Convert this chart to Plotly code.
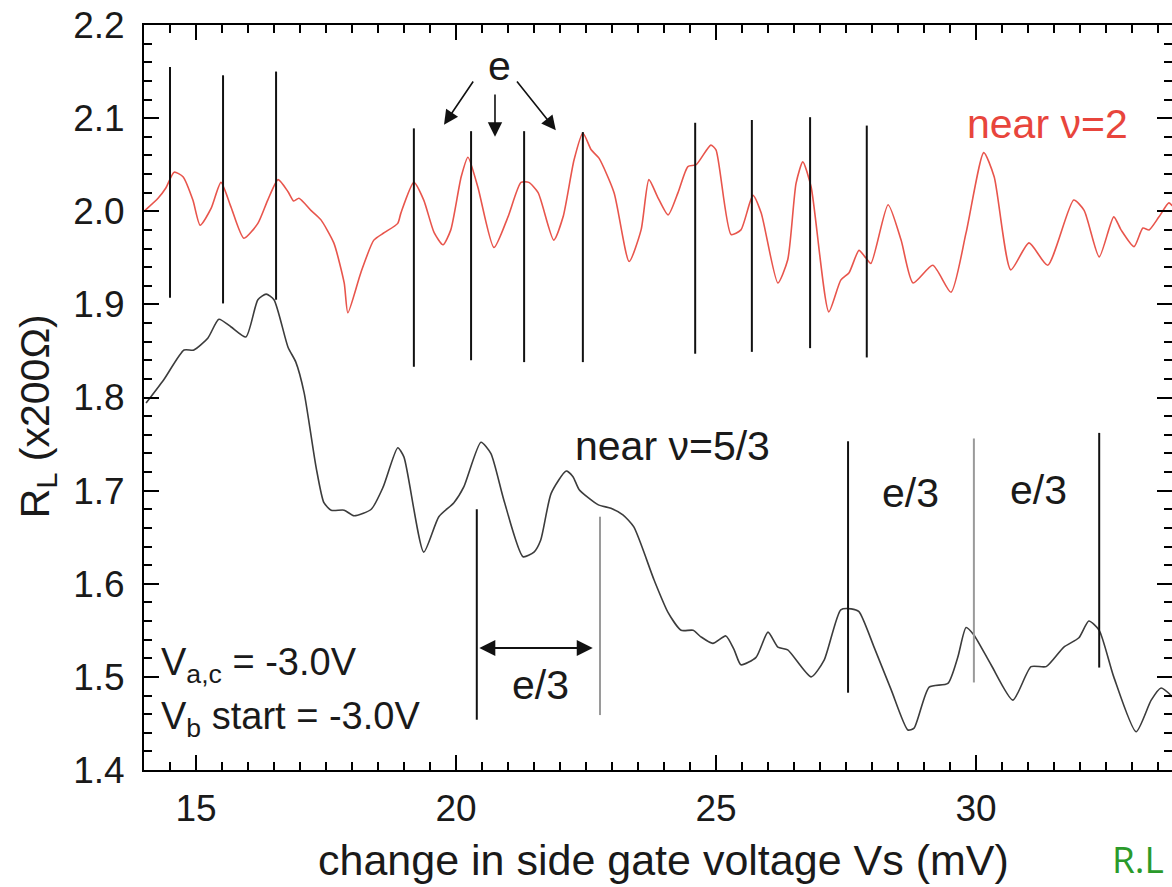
import plotly.graph_objects as go

# ---------------- data ----------------
red_x = [14.02, 14.27, 14.42, 14.58, 14.75, 14.94, 15.08, 15.29, 15.48, 15.67, 15.92, 16.19, 16.38, 16.58,
         16.77, 16.88, 16.98, 17.21, 17.40, 17.65, 17.85, 17.92, 18.17, 18.42, 18.62, 18.88, 18.94, 19.19,
         19.38, 19.58, 19.75, 19.90, 20.10, 20.23, 20.42, 20.73, 21.00, 21.25, 21.40, 21.58, 21.88, 22.06,
         22.27, 22.44, 22.60, 22.75, 23.04, 23.33, 23.56, 23.71, 23.88, 24.08, 24.27, 24.46, 24.62, 24.90,
         25.00, 25.29, 25.48, 25.71, 25.87, 26.19, 26.38, 26.54, 26.67, 26.83, 27.17, 27.40, 27.56, 27.75,
         27.88, 27.98, 28.31, 28.56, 28.79, 29.17, 29.52, 29.81, 30.15, 30.35, 30.67, 31.02, 31.38, 31.88,
         32.08, 32.37, 32.65, 32.79, 33.04, 33.21, 33.33, 33.52, 33.71, 33.79]
red_y = [2.001, 2.014, 2.025, 2.042, 2.037, 2.012, 1.985, 2.003, 2.031, 2.005, 1.971, 1.987, 2.012, 2.034,
         2.021, 2.011, 2.014, 2.001, 1.991, 1.966, 1.923, 1.891, 1.934, 1.969, 1.977, 1.987, 1.998, 2.031,
         2.012, 1.977, 1.964, 1.980, 2.037, 2.058, 2.026, 1.961, 1.994, 2.031, 2.031, 2.020, 1.969, 1.994,
         2.055, 2.084, 2.066, 2.057, 2.020, 1.946, 1.980, 2.034, 2.015, 1.996, 2.020, 2.048, 2.050, 2.071,
         2.066, 1.975, 1.980, 2.017, 1.998, 1.923, 1.948, 2.030, 2.053, 2.026, 1.892, 1.926, 1.934, 1.958,
         1.950, 1.944, 2.007, 1.969, 1.923, 1.942, 1.913, 1.977, 2.063, 2.037, 1.937, 1.966, 1.942, 2.012,
         2.001, 1.951, 1.994, 1.980, 1.962, 1.982, 1.980, 1.994, 2.009, 2.005]

black_x = [14.04, 14.38, 14.77, 14.96, 15.23, 15.44, 15.67, 15.96, 16.19, 16.35, 16.50, 16.77, 16.92, 17.08,
           17.31, 17.46, 17.60, 17.85, 18.04, 18.37, 18.60, 18.88, 19.00, 19.38, 19.67, 19.96, 20.15, 20.48,
           20.67, 20.92, 21.29, 21.50, 21.63, 21.83, 22.12, 22.25, 22.37, 22.73, 22.98, 23.21, 23.42, 23.81,
           24.08, 24.33, 24.56, 24.71, 24.94, 25.19, 25.35, 25.48, 25.77, 26.00, 26.19, 26.38, 26.83, 27.08,
           27.40, 27.60, 27.75, 28.04, 28.37, 28.69, 28.81, 29.10, 29.46, 29.65, 29.81, 29.96, 30.29, 30.71,
           31.06, 31.35, 31.69, 31.98, 32.17, 32.37, 32.65, 33.08, 33.37, 33.56, 33.79]
black_y = [1.794, 1.819, 1.851, 1.851, 1.864, 1.884, 1.876, 1.865, 1.905, 1.911, 1.905, 1.854, 1.838, 1.805,
           1.725, 1.687, 1.679, 1.679, 1.673, 1.680, 1.704, 1.746, 1.736, 1.634, 1.672, 1.687, 1.704, 1.752,
           1.740, 1.690, 1.629, 1.634, 1.647, 1.697, 1.721, 1.715, 1.701, 1.685, 1.681, 1.674, 1.661, 1.604,
           1.569, 1.550, 1.550, 1.543, 1.536, 1.544, 1.529, 1.513, 1.521, 1.548, 1.532, 1.529, 1.500, 1.518,
           1.572, 1.573, 1.570, 1.532, 1.486, 1.443, 1.445, 1.489, 1.493, 1.521, 1.553, 1.545, 1.513, 1.475,
           1.511, 1.511, 1.532, 1.542, 1.560, 1.550, 1.500, 1.441, 1.475, 1.488, 1.478]

# period markers on the nu=2 trace (charge e)
e_mark_x = [14.50, 15.52, 16.54, 19.19, 20.29, 21.31, 22.44, 24.60, 25.69, 26.81, 27.90]
e_mark_top = [2.155, 2.146, 2.150, 2.089, 2.086, 2.086, 2.085, 2.095, 2.098, 2.101, 2.092]
e_mark_bot = [1.907, 1.901, 1.905, 1.833, 1.840, 1.838, 1.838, 1.847, 1.849, 1.853, 1.843]

# period markers on the nu=5/3 trace (charge e/3)
f_mark_x = [20.40, 27.54, 32.37]
f_mark_top = [1.680, 1.753, 1.762]
f_mark_bot = [1.454, 1.483, 1.510]
g_mark_x = [22.77, 29.96]
g_mark_top = [1.672, 1.756]
g_mark_bot = [1.459, 1.494]

x_ticks = [15, 20, 25, 30]
y_ticks = [1.4, 1.5, 1.6, 1.7, 1.8, 1.9, 2.0, 2.1, 2.2]

FONT = "Liberation Sans, Arial, Helvetica, sans-serif"


def segs(xs, tops, bots):
    X, Y = [], []
    for x, t, b in zip(xs, tops, bots):
        X += [x, x, None]
        Y += [b, t, None]
    return X, Y


fig = go.Figure()

fig.add_trace(go.Scatter(x=red_x, y=red_y, mode="lines",
                         line=dict(color="#e8554c", width=1.6, shape="spline", smoothing=0.6),
                         hoverinfo="skip", showlegend=False))
fig.add_trace(go.Scatter(x=black_x, y=black_y, mode="lines",
                         line=dict(color="#3c3c3c", width=1.6, shape="spline", smoothing=0.6),
                         hoverinfo="skip", showlegend=False))

for xs, ts, bs, col in [(e_mark_x, e_mark_top, e_mark_bot, "#111111"),
                        (f_mark_x, f_mark_top, f_mark_bot, "#111111"),
                        (g_mark_x, g_mark_top, g_mark_bot, "#9a9a9a")]:
    X, Y = segs(xs, ts, bs)
    fig.add_trace(go.Scatter(x=X, y=Y, mode="lines", line=dict(color=col, width=2),
                             hoverinfo="skip", showlegend=False))

# invisible trace to anchor the right-hand tick axis
fig.add_trace(go.Scatter(x=[14.0], y=[1.4], yaxis="y2", mode="markers",
                         marker=dict(opacity=0), hoverinfo="skip", showlegend=False))

ann = []


def label(text, x, y, size=41, color="#1a1a1a", **kw):
    ann.append(dict(text=text, x=x, y=y, xref="x", yref="y", showarrow=False,
                    font=dict(family=FONT, size=size, color=color), **kw))


label("e", 20.83, 2.156)
label("near ν=2", 31.38, 2.094, color="#e8453c")
label("near ν=5/3", 24.17, 1.748)
label("e/3", 21.63, 1.491)
label("e/3", 28.75, 1.697)
label("e/3", 31.21, 1.701)
label("V<sub>a,c</sub> = -3.0V", 14.29, 1.513, size=38, xanchor="left")
label("V<sub>b</sub> start = -3.0V", 14.29, 1.455, size=38, xanchor="left")

# arrows from "e"
for (tx, ty, hx, hy) in [(20.35, 2.141, 19.77, 2.093),
                         (20.75, 2.127, 20.75, 2.080),
                         (21.15, 2.141, 21.92, 2.087)]:
    ann.append(dict(x=hx, y=hy, ax=tx, ay=ty, xref="x", yref="y", axref="x", ayref="y",
                    text="", showarrow=True, arrowhead=2, arrowsize=1.8, arrowwidth=1.6,
                    arrowcolor="#111111"))

# double arrow (e/3 spacing)
ann.append(dict(x=22.63, y=1.531, ax=20.42, ay=1.531, xref="x", yref="y", axref="x", ayref="y",
                text="", showarrow=True, arrowhead=2, startarrowhead=2, arrowside="end+start",
                arrowsize=1.6, startarrowsize=1.6, arrowwidth=2, arrowcolor="#111111"))

# axis titles
ann.append(dict(text="change in side gate voltage Vs (mV)", x=24.0, xref="x", y=0, yref="paper",
                yanchor="middle", yshift=-90, showarrow=False,
                font=dict(family=FONT, size=43, color="#1a1a1a")))
ann.append(dict(text="R<sub>L</sub> (x200Ω)", x=0, xref="paper", xshift=-106, y=1.780, yref="y",
                textangle=-90, xanchor="center", yanchor="middle", showarrow=False,
                font=dict(family=FONT, size=41, color="#1a1a1a")))
# credit at the bottom-right corner, as in the source image
ann.append(dict(text="R.L", x=1, xref="paper", xshift=-6, y=0, yref="paper", yshift=-88,
                xanchor="right", yanchor="middle", showarrow=False,
                font=dict(family="Open Sans, Noto Sans, sans-serif", size=37, color="#2a9a2a")))

axis_common = dict(showgrid=False, zeroline=False, linecolor="black", linewidth=2,
                   ticks="inside", tickcolor="black", tickwidth=2, ticklen=15,
                   tickfont=dict(family=FONT, size=37, color="#1a1a1a"))

fig.update_layout(
    width=1172, height=887,
    margin=dict(l=144, r=0, t=25, b=117),
    paper_bgcolor="white", plot_bgcolor="white",
    xaxis=dict(range=[14.0, 33.77], tickvals=x_ticks, showline=True, mirror="ticks",
               minor=dict(dtick=0.5, tick0=0, ticks="inside", ticklen=8, tickwidth=2, tickcolor="black"),
               ticklabelstandoff=5, **axis_common),
    yaxis=dict(range=[1.4, 2.2], tickvals=y_ticks, tickformat=".1f", showline=True, mirror=False,
               minor=dict(dtick=0.02, tick0=0, ticks="inside", ticklen=8, tickwidth=2, tickcolor="black"),
               ticklabelstandoff=10, **axis_common),
    yaxis2=dict(range=[1.4, 2.2], overlaying="y", side="right", showline=False, showgrid=False,
                zeroline=False, ticks="inside", tickvals=y_ticks, ticklen=15, tickwidth=2,
                tickcolor="black", showticklabels=False,
                minor=dict(dtick=0.02, tick0=0, ticks="inside", ticklen=8, tickwidth=2, tickcolor="black")),
    annotations=ann,
    showlegend=False,
)

fig.write_html("out.html")
